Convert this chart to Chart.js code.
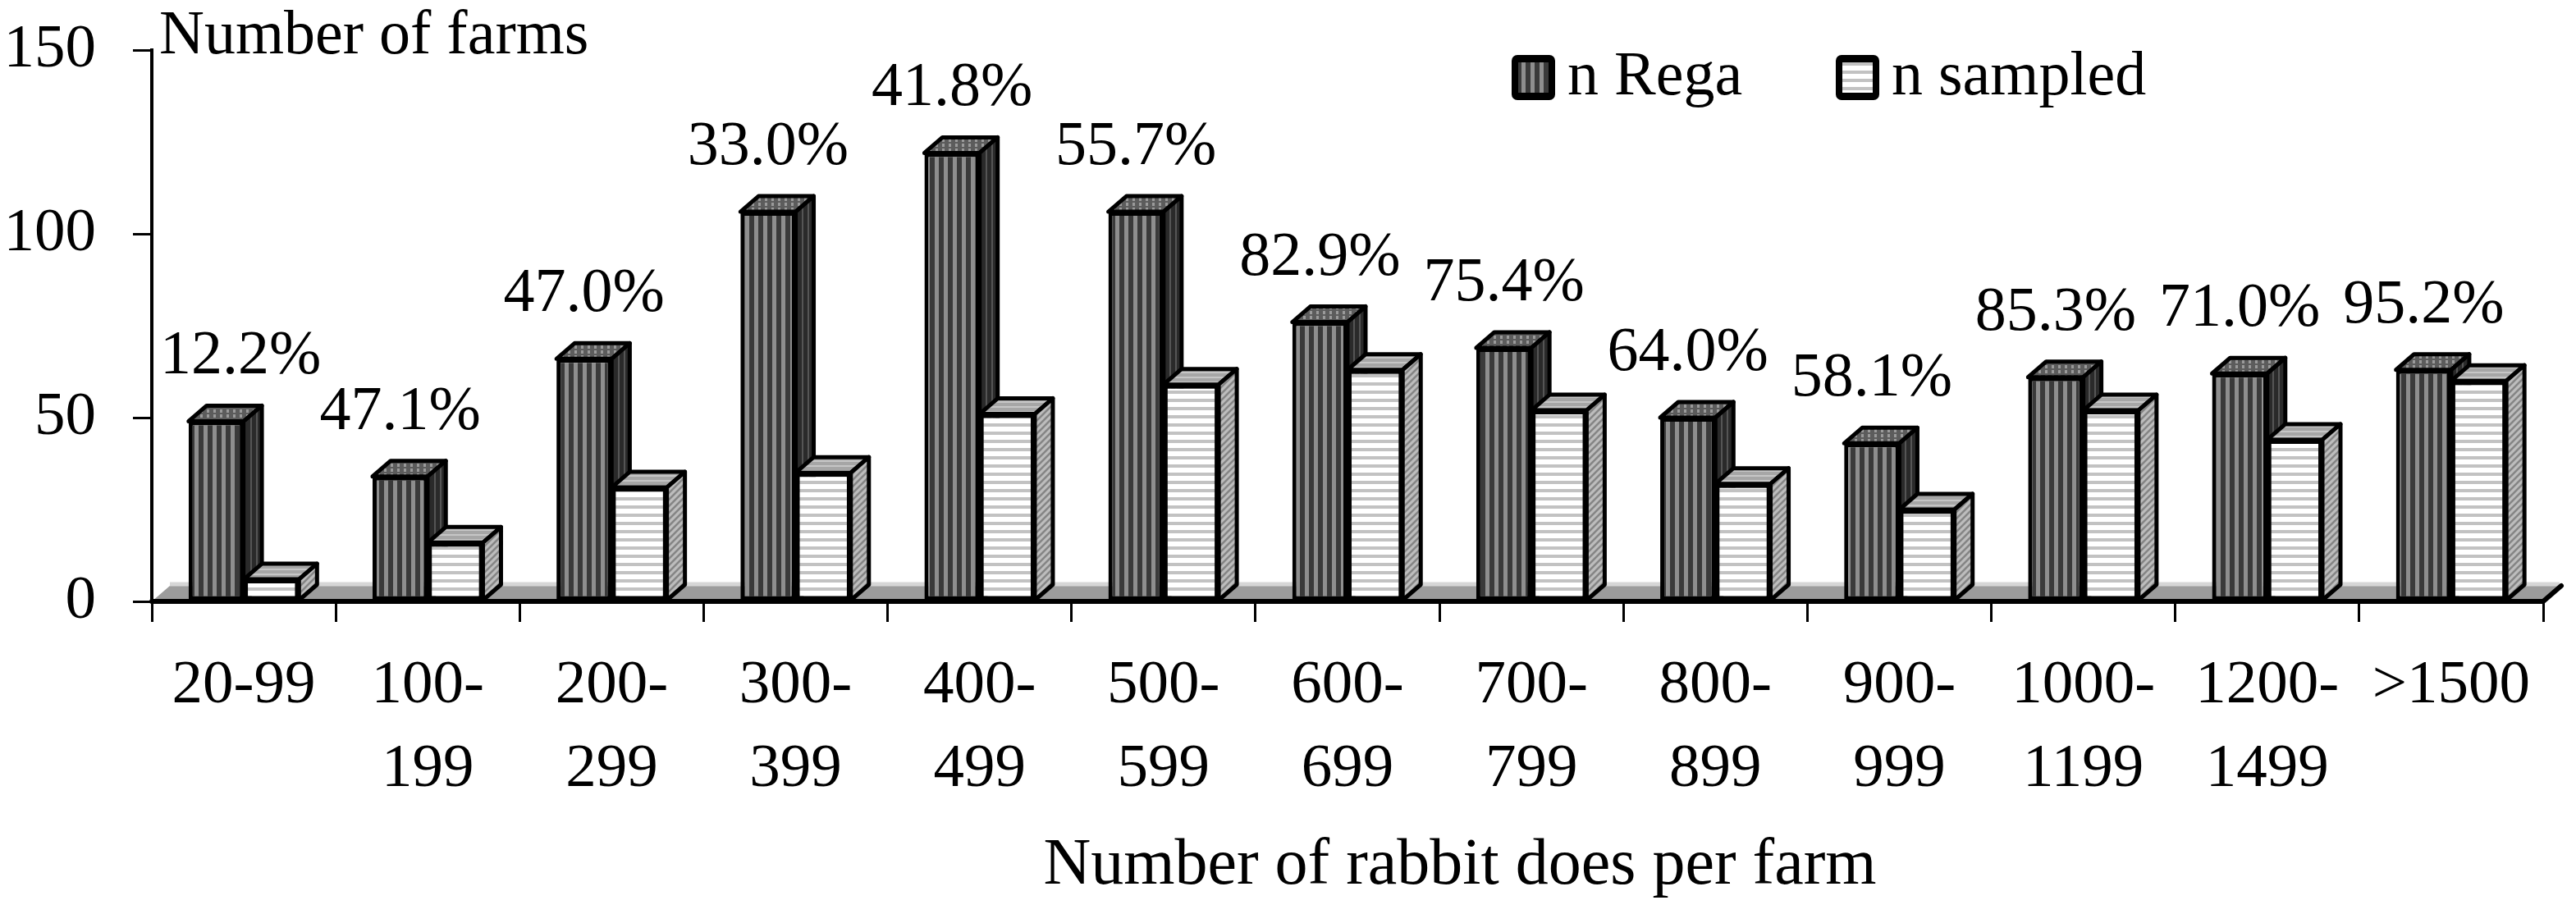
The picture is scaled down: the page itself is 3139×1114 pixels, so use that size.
<!DOCTYPE html>
<html lang="en">
<head>
    <meta charset="UTF-8">
    <title>Number of farms by number of rabbit does per farm</title>
    <script src="https://cdn.jsdelivr.net/npm/chart.js@4.4.1/dist/chart.umd.min.js"></script>
    <style>
        html, body { margin: 0; padding: 0; background: #ffffff; }
        .wrap { width: 3139px; height: 1114px; position: relative; }
    </style>
</head>
<body>
    <div class="wrap"><canvas id="farmChart"></canvas></div>

    <script>
        // data
        const categories = [['20-99'], ['100-', '199'], ['200-', '299'], ['300-', '399'], ['400-', '499'],
            ['500-', '599'], ['600-', '699'], ['700-', '799'], ['800-', '899'], ['900-', '999'],
            ['1000-', '1199'], ['1200-', '1499'], ['>1500']];
        const nRega = [49, 34, 66, 106, 122, 106, 76, 69, 50, 43, 61, 62, 63];
        const nSampled = [6, 16, 31, 35, 51, 59, 63, 52, 32, 25, 52, 44, 60];
        const pctLabels = ['12.2%', '47.1%', '47.0%', '33.0%', '41.8%', '55.7%', '82.9%', '75.4%',
            '64.0%', '58.1%', '85.3%', '71.0%', '95.2%'];
        const yTicks = [0, 50, 100, 150];

        const FONT = "'Liberation Serif', 'Times New Roman', serif";
        const DX = 22, DY = 19;   // 3D depth of the bars and floor

        function makePattern(w, h, paint) {
            const c = document.createElement('canvas');
            c.width = w; c.height = h;
            const g = c.getContext('2d');
            paint(g, w, h);
            return g.createPattern(c, 'repeat');
        }

        const regaFront = makePattern(11, 4, (g) => {
            g.fillStyle = '#3a3a3a'; g.fillRect(0, 0, 11, 4);
            g.fillStyle = '#8e8e8e'; g.fillRect(6, 0, 5, 4);
        });
        const regaSide = makePattern(7, 4, (g) => {
            g.fillStyle = '#2a2a2a'; g.fillRect(0, 0, 7, 4);
            g.fillStyle = '#555555'; g.fillRect(4, 0, 2, 4);
        });
        const regaTop = makePattern(8, 6, (g) => {
            g.fillStyle = '#5c5c5c'; g.fillRect(0, 0, 8, 6);
            g.fillStyle = '#9a9a9a'; g.fillRect(4, 1, 3, 4);
        });
        const sampFront = makePattern(4, 10, (g) => {
            g.fillStyle = '#ffffff'; g.fillRect(0, 0, 4, 10);
            g.fillStyle = '#c2c2c2'; g.fillRect(0, 6, 4, 4);
        });
        const sampSide = makePattern(8, 8, (g) => {
            g.fillStyle = '#bdbdbd'; g.fillRect(0, 0, 8, 8);
            g.strokeStyle = '#858585'; g.lineWidth = 2.5;
            g.beginPath();
            g.moveTo(-1, 9); g.lineTo(9, -1);
            g.moveTo(-1, 1); g.lineTo(1, -1);
            g.moveTo(7, 9); g.lineTo(9, 7);
            g.stroke();
        });
        const sampTop = makePattern(4, 6, (g) => {
            g.fillStyle = '#a6a6a6'; g.fillRect(0, 0, 4, 6);
            g.fillStyle = '#c6c6c6'; g.fillRect(0, 3, 4, 2);
        });

        const faceFills = [
            { front: regaFront, top: regaTop, side: regaSide },
            { front: sampFront, top: sampTop, side: sampSide }
        ];

        function face(ctx, pts, fill) {
            ctx.beginPath();
            ctx.moveTo(pts[0][0], pts[0][1]);
            for (let i = 1; i < pts.length; i++) ctx.lineTo(pts[i][0], pts[i][1]);
            ctx.closePath();
            ctx.fillStyle = fill;
            ctx.fill();
            ctx.stroke();
        }

        function drawDepth(ctx, bar, fills) {
            const p = bar.getProps(['x', 'y', 'base', 'width'], true);
            const x0 = p.x - p.width / 2, x1 = p.x + p.width / 2;
            ctx.save();
            ctx.strokeStyle = '#000';
            ctx.lineWidth = 5;
            ctx.lineJoin = 'round';
            face(ctx, [[x0, p.y], [x0 + DX, p.y - DY], [x1 + DX, p.y - DY], [x1, p.y]], fills.top);
            face(ctx, [[x1, p.y], [x1 + DX, p.y - DY], [x1 + DX, p.base - DY], [x1, p.base]], fills.side);
            ctx.restore();
        }

        const bars3d = {
            id: 'bars3d',
            beforeDatasetsDraw(chart) {
                const { ctx, chartArea: a } = chart;
                ctx.save();
                // floor
                ctx.beginPath();
                ctx.moveTo(a.left, a.bottom);
                ctx.lineTo(a.left + DX, a.bottom - DY);
                ctx.lineTo(a.right + DX, a.bottom - DY);
                ctx.lineTo(a.right, a.bottom);
                ctx.closePath();
                ctx.fillStyle = '#9c9c9c';
                ctx.fill();
                ctx.strokeStyle = '#d6d6d6';
                ctx.lineWidth = 5;
                ctx.beginPath();
                ctx.moveTo(a.left + DX, a.bottom - DY - 2);
                ctx.lineTo(a.right + DX - 2, a.bottom - DY - 2);
                ctx.stroke();
                // base line with its slanted end
                ctx.strokeStyle = '#000';
                ctx.lineWidth = 6;
                ctx.lineJoin = 'round';
                ctx.lineCap = 'round';
                ctx.beginPath();
                ctx.moveTo(a.left, a.bottom);
                ctx.lineTo(a.right, a.bottom);
                ctx.lineTo(a.right + DX, a.bottom - DY);
                ctx.stroke();
                ctx.restore();
            },
            afterDatasetsDraw(chart) {
                // n Rega depth first, then the n sampled bars again in front of it
                const ctx = chart.ctx;
                const rega = chart.getDatasetMeta(0).data;
                const samp = chart.getDatasetMeta(1).data;
                rega.forEach((bar) => drawDepth(ctx, bar, faceFills[0]));
                samp.forEach((bar) => {
                    bar.draw(ctx, chart.chartArea);
                    drawDepth(ctx, bar, faceFills[1]);
                });
            },
            afterDraw(chart) {
                const { ctx, chartArea: a } = chart;
                ctx.save();
                ctx.fillStyle = '#000';
                ctx.textBaseline = 'alphabetic';

                // percentages above the n Rega bars
                ctx.font = '76px ' + FONT;
                ctx.textAlign = 'center';
                chart.getDatasetMeta(0).data.forEach((bar, i) => {
                    const w = ctx.measureText(pctLabels[i]).width;
                    const x = Math.max(bar.x, a.left + 10 + w / 2);
                    ctx.fillText(pctLabels[i], x, bar.y - 58);
                });

                // axis titles
                ctx.textAlign = 'left';
                ctx.fillText('Number of farms', a.left + 9, 65);
                ctx.font = '80px ' + FONT;
                ctx.textAlign = 'center';
                ctx.fillText('Number of rabbit does per farm', 1779, 1077);

                // legend
                ctx.font = '76px ' + FONT;
                ctx.textAlign = 'left';
                const legendX = [1842, 2237];
                chart.data.datasets.forEach((ds, i) => {
                    const bx = legendX[i], by = 67;
                    ctx.fillStyle = '#000';
                    ctx.beginPath();
                    ctx.roundRect(bx, by, 53, 55, 7);
                    ctx.fill();
                    ctx.fillStyle = faceFills[i].front;
                    ctx.fillRect(bx + 8, by + 9, 37, 37);
                    ctx.fillStyle = '#000';
                    ctx.fillText(ds.label, bx + 68, 115);
                });
                ctx.restore();
            }
        };

        new Chart(document.getElementById('farmChart'), {
            type: 'bar',
            data: {
                labels: categories,
                datasets: [
                    {
                        label: 'n Rega',
                        data: nRega,
                        backgroundColor: regaFront,
                        borderColor: '#000',
                        borderWidth: 5,
                        borderSkipped: false
                    },
                    {
                        label: 'n sampled',
                        data: nSampled,
                        backgroundColor: sampFront,
                        borderColor: '#000',
                        borderWidth: 5,
                        borderSkipped: false
                    }
                ]
            },
            options: {
                responsive: true,
                maintainAspectRatio: false,
                animation: false,
                layout: { padding: { top: 61, right: 40, left: 0, bottom: 0 } },
                datasets: { bar: { categoryPercentage: 0.6, barPercentage: 1.0 } },
                plugins: {
                    legend: { display: false },
                    tooltip: { enabled: false }
                },
                scales: {
                    x: {
                        offset: true,
                        afterFit(scale) {
                            scale.height = 381;
                            scale.paddingLeft = 0;
                            scale.paddingRight = 0;
                        },
                        border: { display: false },
                        grid: {
                            offset: true,
                            drawOnChartArea: false,
                            drawTicks: true,
                            tickLength: 25,
                            color: '#000',
                            lineWidth: 3
                        },
                        ticks: {
                            color: '#000',
                            padding: 28,
                            maxRotation: 0,
                            autoSkip: false,
                            font: { family: FONT, size: 75, lineHeight: 1.35 }
                        }
                    },
                    y: {
                        min: 0,
                        max: 150,
                        afterFit(scale) {
                            scale.width = 185;
                            scale.paddingTop = 0;
                            scale.paddingBottom = 0;
                        },
                        afterBuildTicks(scale) { scale.ticks = yTicks.map(v => ({ value: v })); },
                        border: { display: true, color: '#000', width: 4 },
                        grid: {
                            drawOnChartArea: false,
                            drawTicks: true,
                            tickLength: 23,
                            color: '#000',
                            lineWidth: 3
                        },
                        ticks: {
                            color: '#000',
                            padding: 45,
                            font: { family: FONT, size: 75 }
                        }
                    }
                }
            },
            plugins: [bars3d]
        });
    </script>
</body>
</html>
